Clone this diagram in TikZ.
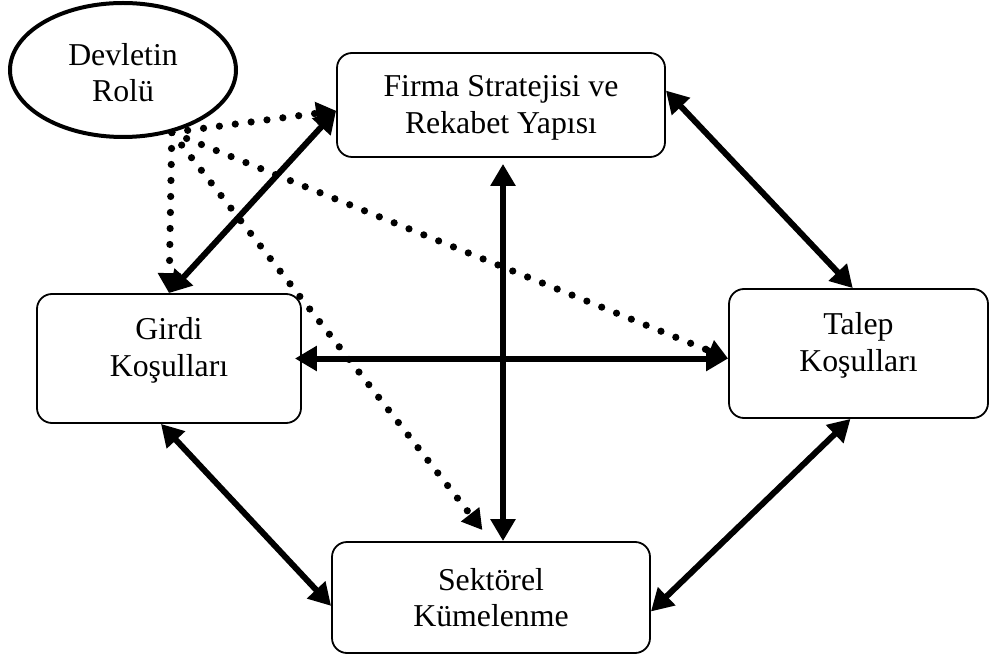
\documentclass[tikz,border=0pt]{standalone}
\usepackage{fontspec}
\setmainfont{Liberation Serif}
\usepackage{xcolor}
\usepackage{tikz}
\usetikzlibrary{calc,arrows.meta,positioning,shapes.geometric}
\definecolor{kutuCizgi}{RGB}{0,0,0}

\begin{document}
\begin{tikzpicture}[x=0.5pt, y=-0.5pt,
  font=\fontsize{15.9}{18.25}\selectfont,
  kutu/.style={draw=kutuCizgi, line width=0.9pt, rounded corners=7.5pt, align=center, inner sep=0pt},
  iliski/.style={line width=3pt, {Triangle[length=11pt,width=12pt]}-{Triangle[length=11pt,width=12pt]}},
  etki/.style={line width=3.6pt, line cap=round, dash pattern=on 0pt off 8pt, -{Triangle[length=10pt,width=11pt]}}]
\useasboundingbox (0,0) rectangle (989,657);

\node[ellipse, draw=kutuCizgi, line width=2pt, minimum width=113pt, minimum height=67pt, inner sep=0pt, align=center, text height=32pt, text depth=0pt] (devlet) at (123,70) {Devletin\\Rolü};
\node[kutu, minimum width=164pt, text height=40.25pt, text depth=11.75pt] (firma) at (501,105) {Firma Stratejisi ve\\Rekabet Yapısı};
\node[kutu, minimum width=132pt, text height=41.25pt, text depth=23.25pt] (girdi) at (169,358.5) {Girdi\\Koşulları};
\node[kutu, minimum width=129.5pt, text height=41.25pt, text depth=23.25pt] (talep) at (858.5,353.5) {Talep\\Koşulları};
\node[kutu, minimum width=159pt, text height=42.25pt, text depth=13.25pt] (sektor) at (491,597.5) {Sektörel\\Kümelenme};

\coordinate (cikis) at (devlet.-52);

\draw[iliski] (girdi.north) -- (firma.182);
\draw[iliski] (firma.5) -- (talep.95);
\draw[iliski, shorten <=3pt] ([xshift=1pt]firma.south) -- ([xshift=1pt]firma.south |- sektor.north);
\draw[iliski, shorten <=-3.5pt] (girdi.east) -- (girdi.east -| talep.west);
\draw[iliski] (girdi.263) -- (sektor.183);
\draw[iliski] (talep.263) -- (sektor.-5);

\draw[etki] (cikis) -- (firma.182);
\draw[etki] (cikis) -- (girdi.north);
\draw[etki] (cikis) -- (girdi.east -| talep.west);
\draw[etki, shorten >=7pt] (cikis) -- (sektor.north);
\end{tikzpicture}
\end{document}
